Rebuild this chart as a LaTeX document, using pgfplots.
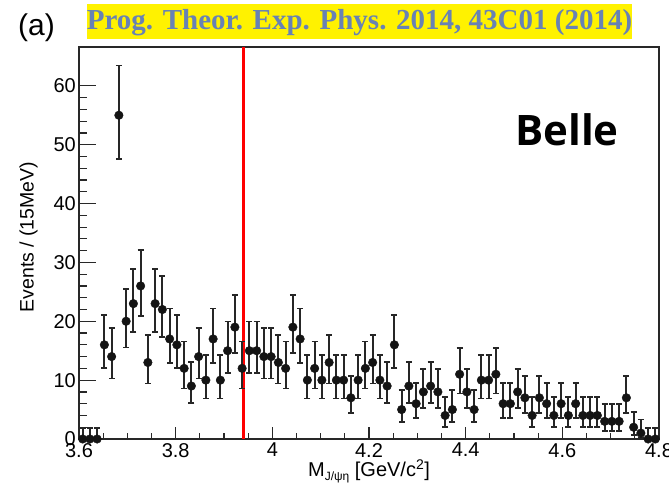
\documentclass[border=0pt]{standalone}
\usepackage{pgfplots}
\pgfplotsset{compat=1.18}
\usepackage{pgfplotstable}
\usepackage{fontspec}
\setmainfont{Liberation Sans}
\newfontfamily\titlefont{Liberation Serif}
\newfontfamily\bellefont{Open Sans}
\definecolor{titleblue}{RGB}{104,130,180}
\definecolor{axisgray}{RGB}{40,40,40}

\pgfplotstableread{
x y ep em
3.6075 0 1.84 0
3.6225 0 1.84 0
3.6375 0 1.84 0
3.6525 16 5.06 3.97
3.6675 14 4.84 3.71
3.6825 55 8.47 7.40
3.6975 20 5.50 4.44
3.7125 23 5.82 4.77
3.7275 26 6.12 5.07
3.7425 13 4.71 3.57
3.7575 23 5.82 4.77
3.7725 22 5.72 4.66
3.7875 17 5.18 4.09
3.8025 16 5.06 3.97
3.8175 12 4.57 3.43
3.8325 9 4.11 2.94
3.8475 14 4.84 3.71
3.8625 10 4.27 3.11
3.8775 17 5.18 4.09
3.8925 10 4.27 3.11
3.9075 15 4.97 3.84
3.9225 19 5.44 4.33
3.9375 12 4.57 3.43
3.9525 15 4.97 3.84
3.9675 15 4.97 3.84
3.9825 14 4.84 3.71
3.9975 14 4.84 3.71
4.0125 13 4.71 3.57
4.0275 12 4.57 3.43
4.0425 19 5.44 4.33
4.0575 17 5.18 4.09
4.0725 10 4.27 3.11
4.0875 12 4.57 3.43
4.1025 10 4.27 3.11
4.1175 13 4.71 3.57
4.1325 10 4.27 3.11
4.1475 10 4.27 3.11
4.1625 7 3.77 2.58
4.1775 10 4.27 3.11
4.1925 12 4.57 3.43
4.2075 13 4.71 3.57
4.2225 10 4.27 3.11
4.2375 9 4.11 2.94
4.2525 16 5.06 3.97
4.2675 5 3.38 2.16
4.2825 9 4.11 2.94
4.2975 6 3.58 2.38
4.3125 8 3.95 2.77
4.3275 9 4.11 2.94
4.3425 8 3.95 2.77
4.3575 4 3.16 1.91
4.3725 5 3.38 2.16
4.3875 11 4.43 3.28
4.4025 8 3.95 2.77
4.4175 5 3.38 2.16
4.4325 10 4.27 3.11
4.4475 10 4.27 3.11
4.4625 11 4.43 3.28
4.4775 6 3.58 2.38
4.4925 6 3.58 2.38
4.5075 8 3.95 2.77
4.5225 7 3.77 2.58
4.5375 4 3.16 1.91
4.5525 7 3.77 2.58
4.5675 6 3.58 2.38
4.5825 4 3.16 1.91
4.5975 6 3.58 2.38
4.6125 4 3.16 1.91
4.6275 6 3.58 2.38
4.6425 4 3.16 1.91
4.6575 4 3.16 1.91
4.6725 4 3.16 1.91
4.6875 3 2.92 1.63
4.7025 3 2.92 1.63
4.7175 3 2.92 1.63
4.7325 7 3.77 2.58
4.7475 2 2.64 1.29
4.7625 1 2.30 0.83
4.7775 0 1.84 0
4.7925 0 1.84 0
}\datatable

\begin{document}
\begin{tikzpicture}[x=1pt,y=1pt]
\useasboundingbox (0,0) rectangle (669,489);
% header
\node[anchor=base west, inner sep=0pt, font=\fontsize{30}{30}\selectfont] at (18,453) {(a)};
\fill[yellow] (87,450) rectangle (632,485);
\node[anchor=base, inner sep=0pt, text=titleblue, font=\titlefont\bfseries\fontsize{29}{29}\selectfont] at (359.5,459.5) {Prog. Theor. Exp. Phys. 2014, 43C01 (2014)};

% x ticks (shorter)
\begin{axis}[
  at={(79pt,50pt)}, anchor=south west,
  scale only axis, width=580pt, height=392pt,
  xmin=3.6, xmax=4.8, ymin=0, ymax=66.6,
  axis line style={draw=none},
  xtick={3.6,3.8,4,4.2,4.4,4.6,4.8}, xticklabels={},
  minor x tick num=3,
  ytick=\empty,
  tick align=inside, xtick pos=bottom,
  major tick length=12pt, minor tick length=6pt,
  tick style={line width=1.2pt, color=axisgray},
]
\end{axis}

\begin{axis}[
  at={(79pt,50pt)}, anchor=south west,
  scale only axis, width=580pt, height=392pt,
  xmin=3.6, xmax=4.8, ymin=0, ymax=66.6,
  xtick={3.6,3.8,4,4.2,4.4,4.6,4.8},
  xticklabels={3.6,3.8,4,4.2,4.4,4.6,4.8},
  xtick style={draw=none},
  ytick={0,10,20,30,40,50,60},
  minor y tick num=4,
  tick align=inside, xtick pos=bottom, ytick pos=left,
  major tick length=17pt, minor tick length=8.5pt,
  axis line style={line width=1.2pt, color=axisgray},
  tick style={line width=1.2pt, color=axisgray},
  tick label style={font=\fontsize{20}{20}\selectfont},
  /pgf/number format/assume math mode=true,
  yticklabel style={inner sep=0pt, xshift=-3pt},
  xticklabel style={inner sep=0pt, yshift=-4pt},
  xlabel={M\raisebox{-0.35ex}{\fontsize{12}{12}\selectfont J/ψη} [GeV/c\textsuperscript{2}]},
  xlabel style={at={(axis description cs:0.5,0)}, anchor=base, yshift=-38pt, font=\fontsize{20}{20}\selectfont},
  ylabel={Events / (15MeV)},
  ylabel style={at={(axis description cs:-0.0784,0.515)}, rotate=0, anchor=base, font=\fontsize{19.5}{19.5}\selectfont},
  clip=false,
]
\addplot[red, line width=2.8pt] coordinates {(3.9407,0) (3.9407,66.6)};
\addplot[only marks, mark=*, mark size=4.3pt, color=black!92,
  error bars/.cd, y dir=both, y explicit,
  error bar style={line width=1.8pt, black!85},
  error mark options={rotate=90, mark size=3pt, line width=1.8pt, black!85}]
  table[x=x, y=y, y error plus=ep, y error minus=em] {\datatable};
\end{axis}

\node[anchor=base west, inner sep=0pt, font=\bellefont\bfseries\fontsize{42}{42}\selectfont] at (515,343) {Belle};
\end{tikzpicture}
\end{document}
